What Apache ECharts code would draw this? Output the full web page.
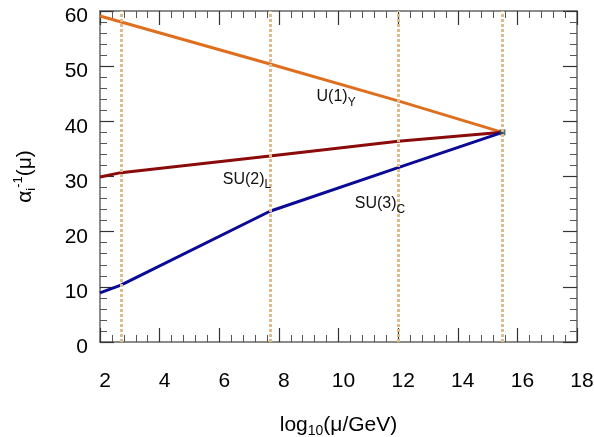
<!DOCTYPE html>
<html><head><meta charset="utf-8">
<script src="https://cdn.jsdelivr.net/npm/echarts@6/dist/echarts.min.js"></script>
<style>html,body{margin:0;padding:0;background:#fff}#c{width:594px;height:437px}</style>
</head><body><div id="c"></div>
<script>
const xTickMin = 2, xTickMax = 18, xTickStep = 2;
const yTickMin = 0, yTickMax = 60, yTickStep = 10;
const thresholds = [2.7, 7.7, 12, 15.5];
const u1X = [2, 7.7, 12, 15.5];
const u1Y = [59.1, 50.4, 43.7, 38];
const su2X = [2, 2.7, 7.7, 12, 15.5];
const su2Y = [29.9, 30.7, 33.7, 36.4, 38];
const su3X = [2, 2.7, 7.7, 12, 15.5];
const su3Y = [8.9, 10.3, 23.7, 31.6, 38];
const unifX = [15.5];
const unifY = [38];
const labelNames = ['U(1)', 'SU(2)', 'SU(3)'];
const labelSubs = ['Y', 'L', 'C'];
const labelPos = [[9.92, 44.4], [6.93, 29.5], [11.39, 25.0]];

const FONT = 'Liberation Sans, Arial, Helvetica, sans-serif';
const zip = (xs, ys) => xs.map((x, i) => [x, ys[i]]);
const axisCommon = {
  type: 'value', min: xTickMin, max: xTickMax, interval: xTickStep,
  axisLine: { show: true, onZero: false, lineStyle: { color: '#666', width: 1.5 } },
  axisTick: { show: true, inside: true, length: 14, lineStyle: { color: '#333', width: 1.2 } },
  minorTick: { show: true, splitNumber: 5, length: 7, lineStyle: { color: '#555', width: 1 } },
  splitLine: { show: false }
};
const chart = echarts.init(document.getElementById('c'));
const lbl = (i) => ({
  name: labelNames[i], coord: labelPos[i], symbolSize: 0,
  label: {
    show: true, position: 'inside',
    formatter: '{m|' + labelNames[i] + '}{s|' + labelSubs[i] + '}',
    rich: {
      m: { fontSize: 16, fontFamily: FONT, color: '#111', lineHeight: 23, verticalAlign: 'middle' },
      s: { fontSize: 12, fontFamily: FONT, color: '#111', lineHeight: 12, verticalAlign: 'bottom' }
    }
  }
});
chart.setOption({
  animation: false,
  backgroundColor: '#fff',
  grid: { left: 100, right: 17, top: 11, bottom: 95, containLabel: false, outerBoundsMode: 'none' },
  xAxis: [
    Object.assign({}, axisCommon, {
      position: 'bottom',
      axisLabel: { show: true, margin: 29, fontSize: 21, fontFamily: FONT, color: '#000', padding: [0, 0, 0, 10] },
      name: '{a|log}{s|10}{a|(μ/GeV)}', nameLocation: 'middle', nameGap: 70,
      nameTextStyle: {
        rich: {
          a: { fontSize: 21, fontFamily: FONT, color: '#000', lineHeight: 26, verticalAlign: 'middle' },
          s: { fontSize: 14, fontFamily: FONT, color: '#000', lineHeight: 14, verticalAlign: 'bottom' }
        }
      }
    }),
    Object.assign({}, axisCommon, { position: 'top', axisLabel: { show: false } })
  ],
  yAxis: [
    Object.assign({}, axisCommon, {
      min: yTickMin, max: yTickMax, interval: yTickStep, position: 'left',
      axisLabel: {
        show: true, margin: 12, color: '#000',
        formatter: v => '{v|' + v + '}',
        rich: { v: { fontSize: 21, fontFamily: FONT, color: '#000', padding: [11, 0, 0, 0] } }
      },
      name: '{a|α}{s|i}{p|-1}{a|(μ)}', nameLocation: 'middle', nameGap: 62, nameRotate: 90,
      nameTextStyle: {
        rich: {
          a: { fontSize: 21, fontFamily: FONT, color: '#000', lineHeight: 26, verticalAlign: 'middle' },
          s: { fontSize: 13, fontFamily: FONT, color: '#000', lineHeight: 13, verticalAlign: 'bottom' },
          p: { fontSize: 13, fontFamily: FONT, color: '#000', lineHeight: 13, verticalAlign: 'top' }
        }
      }
    }),
    Object.assign({}, axisCommon, {
      min: yTickMin, max: yTickMax, interval: yTickStep, position: 'right', axisLabel: { show: false }
    })
  ],
  series: [
    {
      type: 'line', data: zip(u1X, u1Y), symbol: 'none',
      lineStyle: { color: '#DE6F1F', width: 3 }, z: 3,
      markLine: {
        silent: true, symbol: 'none', label: { show: false },
        lineStyle: { color: '#DCBC8E', width: 3, type: [3, 2] },
        data: thresholds.map(v => ({ xAxis: v }))
      },
      markPoint: { data: [lbl(0)] }
    },
    {
      type: 'line', data: zip(su2X, su2Y), symbol: 'none',
      lineStyle: { color: '#8B0A0A', width: 3 }, z: 3,
      markPoint: { data: [lbl(1)] }
    },
    {
      type: 'line', data: zip(su3X, su3Y), symbol: 'none',
      lineStyle: { color: '#0A0A96', width: 3 }, z: 3,
      markPoint: { data: [lbl(2)] }
    },
    {
      type: 'scatter', data: zip(unifX, unifY), symbol: 'rect', symbolSize: 6,
      itemStyle: { color: '#2F4F4F' }, z: 4
    }
  ]
});
</script></body></html>
